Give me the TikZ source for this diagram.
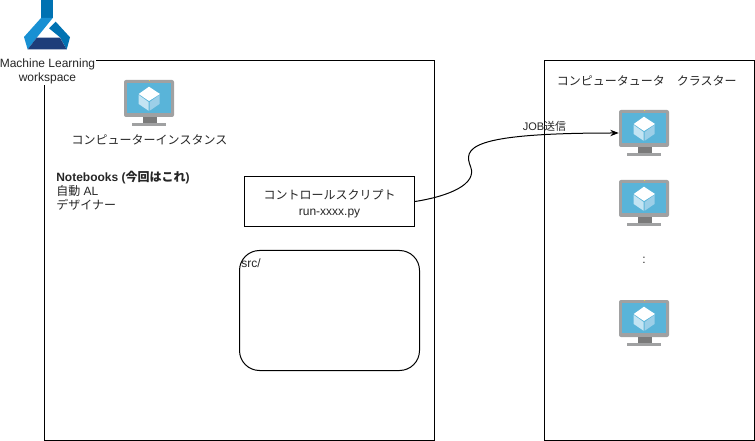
\documentclass[tikz,border=0pt]{standalone}
\usepackage{fontspec}
\setmainfont{Liberation Sans}
\newfontfamily\cjk{Noto Sans CJK JP}
\usetikzlibrary{arrows.meta}

\definecolor{scrblue}{HTML}{59B4D9}
\definecolor{framegray}{HTML}{A0A1A2}
\definecolor{neckgray}{HTML}{7A7A7A}
\definecolor{faceleft}{HTML}{C3E4F3}
\definecolor{faceright}{HTML}{9CCFE8}
\definecolor{flaskmid}{RGB}{0,114,178}
\definecolor{flasklight}{RGB}{24,144,211}
\definecolor{flaskdark}{RGB}{29,61,122}

\tikzset{
  label12/.style={font=\fontsize{9}{10.5}\selectfont, text=black!85, inner sep=0pt, align=center},
  label11/.style={label12, font=\fontsize{8.25}{10}\selectfont},
  panel/.style={draw, line width=0.75pt, minimum width=#1},
  monitor/.pic={
    \fill[framegray, rounded corners=1.5pt] (0,0) rectangle (50,37);
    \fill[scrblue] (3,3) rectangle (47,33);
    \fill[yellow!70!gray] (24.5,0) rectangle (25.5,1);
    \fill[neckgray] (19,37) rectangle (33,43);
    \fill[framegray] (8,43) rectangle (42,46);
    \fill[white] (25,6.7) -- (36,14) -- (25,21) -- (14.7,14) -- cycle;
    \fill[faceleft] (14.7,15) -- (24.5,22) -- (24.5,30.7) -- (14.7,24) -- cycle;
    \fill[faceright] (35.5,15) -- (25.7,22) -- (25.7,30.7) -- (35.5,24) -- cycle;
    \node[minimum width=37.5pt, minimum height=34.5pt, inner sep=0pt] (-box) at (25,23) {};
  }
}

\begin{document}
\begin{tikzpicture}[x=0.75pt, y=-0.75pt, >=Stealth]
  \useasboundingbox (0,0) rectangle (755,441);
  \fill[white] (0,0) rectangle (755,441);
  % panels
  \node[panel=292.5pt, minimum height=285pt] (wsbox) at (239.5,250.5) {};
  \node[panel=157.5pt, minimum height=285pt] (clbox) at (649.5,250.5) {};
  \node[panel=127.5pt, minimum height=37.5pt, label12] (ctrl) at (329.5,201.5)
    {\rule{0pt}{11pt}{\cjk コントロールスクリプト}\\[1pt]run-xxxx.py};
  \node[panel=135pt, minimum height=90pt, rounded corners=15pt] (srcbox) at (329.5,310.5) {};
  \node[label12, anchor=west] (srclabel) at (241,263.5) {src/};
  % workspace logo
  \fill[white] (0,56) rectangle (96,85);
  \fill[flaskmid] (41,0) rectangle (52.7,18);
  \fill[flasklight] (41,18) -- (52.7,18) -- (36.7,37.7) -- (27.7,49.5) -- (24,37) -- cycle;
  \fill[flaskmid] (55.7,21.7) -- (70,37.3) -- (66.7,49.5) -- (60,37.3) -- (49,28.3) -- cycle;
  \fill[flaskdark] (36.7,37.7) -- (60,37.7) -- (66.7,49.5) -- (27.7,49.5) -- cycle;
  \node[label12] (wslabel) at (47.5,71) {Machine Learning\\workspace};
  % monitors
  \pic (vma) at (124,80) {monitor};
  \pic (vmb) at (619,110) {monitor};
  \pic (vmc) at (619,180) {monitor};
  \pic (vmd) at (619,300) {monitor};
  \node[label12] (vmalabel) at (149.5,140) {\cjk コンピューターインスタンス};
  \node[label12, anchor=west, align=left] (menu) at (56,191)
    {\textbf{Notebooks ({\cjk 今回はこれ})}\\{\cjk 自動} AL\\{\cjk デザイナー}};
  \node[label12, anchor=west] (cltitle) at (556.5,81) {\cjk コンピュータュータ　クラスター};
  \node[label12] (dots) at (644,260.5) {:};
  % job edge
  \draw[->, line width=0.75pt] (ctrl.east) .. controls (450,196) and (477,184) .. (470.7,167)
    .. controls (463,148) and (468,133) .. (vmb-box.west |- 0,133);
  \node[label11] (joblabel) at (544.5,126) {JOB{\cjk 送信}};
\end{tikzpicture}
\end{document}
